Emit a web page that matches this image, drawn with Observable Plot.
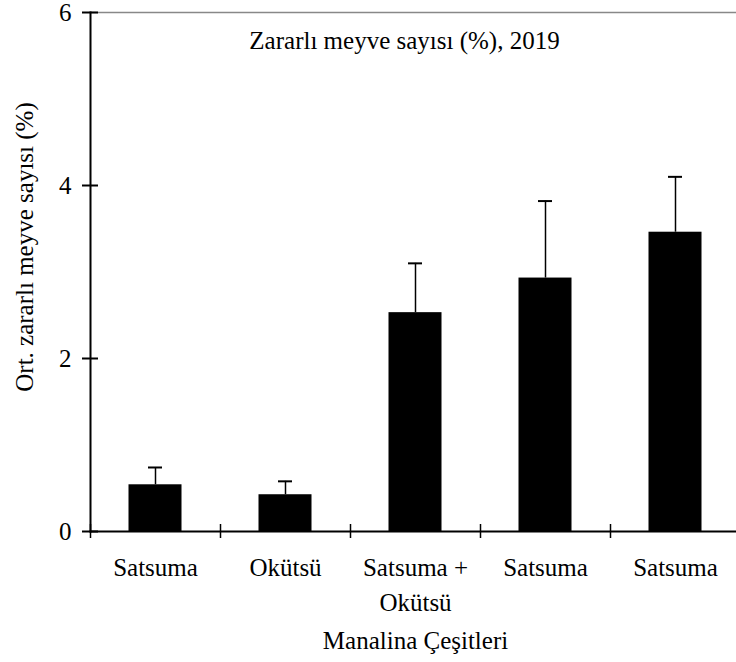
<!DOCTYPE html>
<html><head><meta charset="utf-8">
<script src="https://cdn.jsdelivr.net/npm/d3@7"></script>
<script src="https://cdn.jsdelivr.net/npm/@observablehq/plot@0.6"></script>
<style>body{margin:0;background:#fff} svg text{font-family:"Liberation Serif","Times New Roman",serif}</style>
</head><body><div id="chart"></div>
<script>
const categories = ["Satsuma", "Okütsü", "Satsuma +\nOkütsü", "Satsuma", "Satsuma"];
const means = [0.54, 0.425, 2.53, 2.93, 3.46];
const errors = [0.20, 0.155, 0.57, 0.89, 0.64];
const yTicks = [0, 2, 4, 6];
const title = "Zararlı meyve sayısı (%), 2019";
const yLabel = "Ort. zararlı meyve sayısı (%)";
const xLabel = "Manalina Çeşitleri";

const data = categories.map((c, i) => ({key: i, label: c, mean: means[i], upper: means[i] + errors[i]}));
const keys = data.map(d => d.key);
const FONT = "Liberation Serif";

const plot = Plot.plot({
  width: 736, height: 662,
  marginLeft: 90, marginRight: 0, marginTop: 12, marginBottom: 131,
  style: {fontFamily: FONT, fontSize: "25px", color: "#000", background: "#fff", overflow: "visible"},
  x: {domain: keys, range: [90, 740], padding: 0},
  y: {domain: [0, 6]},
  marks: [
    Plot.frame({anchor: "top", stroke: "#888", strokeWidth: 1.7}),
    Plot.barY(data, {x: "key", y: "mean", fill: "#000", insetLeft: 38.5, insetRight: 38.5}),
    Plot.ruleX(data, {x: "key", y1: "mean", y2: "upper", stroke: "#000", strokeWidth: 1.5}),
    Plot.tickY(data, {x: "key", y: "upper", stroke: "#000", strokeWidth: 2, insetLeft: 58, insetRight: 58}),
    Plot.frame({anchor: "left", stroke: "#000", strokeWidth: 2}),
    Plot.frame({anchor: "bottom", stroke: "#000", strokeWidth: 2}),
    Plot.axisY({ticks: yTicks, tickSize: 16, dx: 8, tickPadding: 11, tickFormat: d => String(d), fontSize: 25, fontFamily: FONT, label: null, strokeWidth: 2}),
    Plot.axisX({tickSize: 14, dy: -7, dx: -65, tickFormat: () => "", label: null, strokeWidth: 1.5}),
    Plot.axisX({tickSize: 0, tickPadding: 20, tickFormat: i => categories[i], lineHeight: 1.4, fontSize: 25, fontFamily: FONT, label: null}),
    Plot.text([title], {frameAnchor: "top", dy: 28, dx: -9, lineAnchor: "middle", fontSize: 25, fontFamily: FONT}),
    Plot.text([yLabel], {frameAnchor: "left", rotate: -90, dx: -66, dy: -25, textAnchor: "middle", lineAnchor: "middle", fontSize: 25, fontFamily: FONT}),
    Plot.text([xLabel], {frameAnchor: "bottom", dy: 109, dx: 2, lineAnchor: "middle", fontSize: 25, fontFamily: FONT})
  ]
});
document.getElementById("chart").appendChild(plot);
</script>
</body></html>
